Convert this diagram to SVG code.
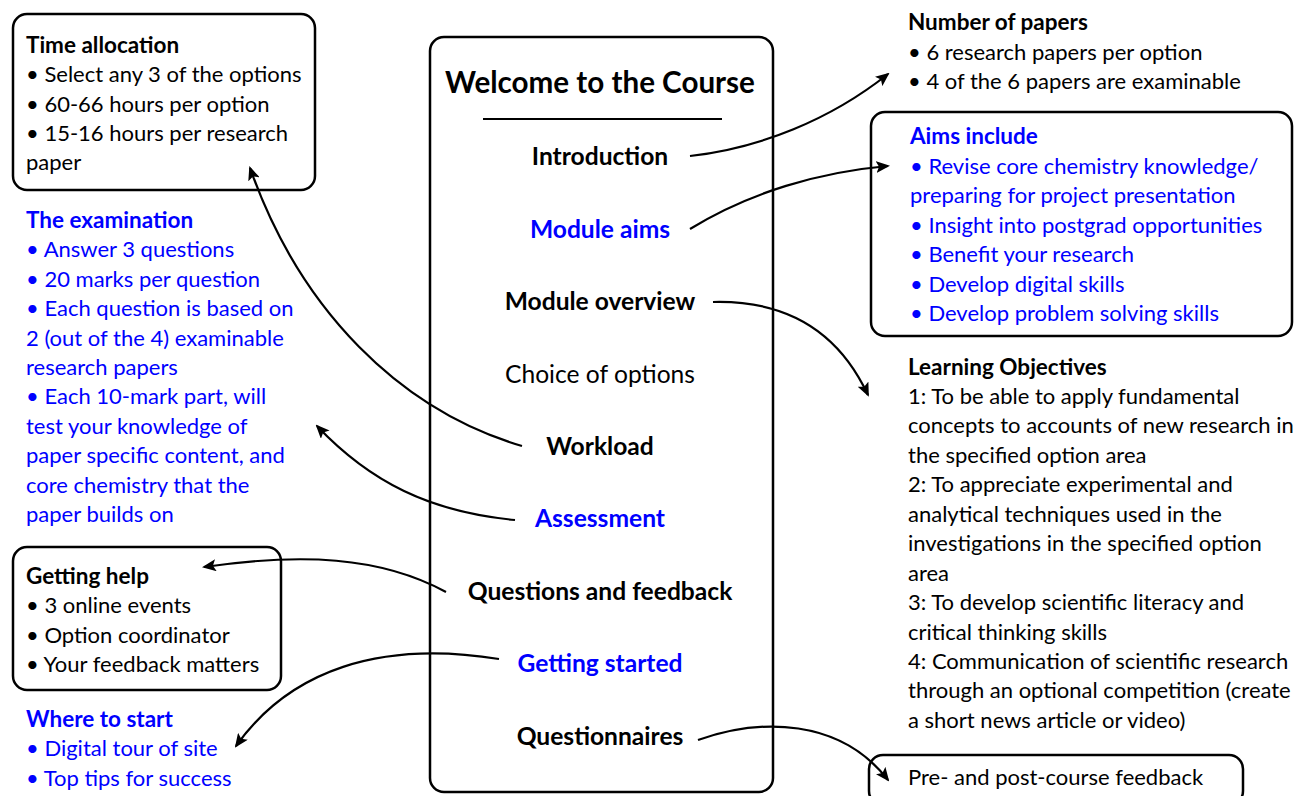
<svg xmlns="http://www.w3.org/2000/svg" width="1296" height="796" viewBox="0 0 1296 796">
<defs>
<style>
text{font-family:Lato,"Liberation Sans",sans-serif;font-size:22px;fill:#000}
.b{font-weight:bold;font-size:22.5px}
.blue{fill:#0000ff}
.menu{font-size:24.6px;text-anchor:middle}
.box{fill:#fff;stroke:#000;stroke-width:2.5}
.con{fill:none;stroke:#000;stroke-width:2.2}
</style>
<marker id="ah" viewBox="0 0 14 12" refX="12" refY="6" markerWidth="14" markerHeight="12" markerUnits="userSpaceOnUse" orient="auto">
<path d="M0,0 L14,6 L0,12 L3,6 Z" fill="#000"/>
</marker>
</defs>
<rect width="1296" height="796" fill="#fff"/>

<g id="center">
<rect class="box" x="430" y="37" width="343" height="755" rx="14"/>
<text class="b" x="600" y="93" style="font-size:29.6px;text-anchor:middle">Welcome to the Course</text>
<line x1="483" y1="119" x2="722" y2="119" stroke="#000" stroke-width="2.2"/>
<text class="menu b" x="600" y="165">Introduction</text>
<text class="menu b blue" x="600" y="238">Module aims</text>
<text class="menu b" x="600" y="310">Module overview</text>
<text class="menu" x="600" y="383">Choice of options</text>
<text class="menu b" x="600" y="455">Workload</text>
<text class="menu b blue" x="600" y="527">Assessment</text>
<text class="menu b" x="600" y="600">Questions and feedback</text>
<text class="menu b blue" x="600" y="672">Getting started</text>
<text class="menu b" x="600" y="745">Questionnaires</text>
</g>

<g id="time-allocation">
<rect class="box" x="13" y="14" width="302" height="176" rx="14"/>
<text class="b" x="26" y="53">Time allocation</text>
<text x="26" y="82">• Select any 3 of the options</text>
<text x="26" y="112">• 60-66 hours per option</text>
<text x="26" y="141">• 15-16 hours per research</text>
<text x="26" y="170">paper</text>
</g>

<g id="examination">
<text class="b blue" x="26" y="228">The examination</text>
<text class="blue" x="26" y="257">• Answer 3 questions</text>
<text class="blue" x="26" y="287">• 20 marks per question</text>
<text class="blue" x="26" y="316">• Each question is based on</text>
<text class="blue" x="26" y="346">2 (out of the 4) examinable</text>
<text class="blue" x="26" y="375">research papers</text>
<text class="blue" x="26" y="404">• Each 10-mark part, will</text>
<text class="blue" x="26" y="434">test your knowledge of</text>
<text class="blue" x="26" y="463">paper specific content, and</text>
<text class="blue" x="26" y="493">core chemistry that the</text>
<text class="blue" x="26" y="522">paper builds on</text>
</g>

<g id="getting-help">
<rect class="box" x="13" y="547" width="268" height="143" rx="14"/>
<text class="b" x="26" y="584">Getting help</text>
<text x="26" y="613">• 3 online events</text>
<text x="26" y="643">• Option coordinator</text>
<text x="26" y="672">• Your feedback matters</text>
</g>

<g id="where-to-start">
<text class="b blue" x="26" y="727">Where to start</text>
<text class="blue" x="26" y="756">• Digital tour of site</text>
<text class="blue" x="26" y="786">• Top tips for success</text>
</g>

<g id="number-of-papers">
<text class="b" x="908" y="30">Number of papers</text>
<text x="908" y="60">• 6 research papers per option</text>
<text x="908" y="89">• 4 of the 6 papers are examinable</text>
</g>

<g id="aims">
<rect class="box" x="871" y="112" width="421" height="224" rx="14"/>
<text class="b blue" x="910" y="144">Aims include</text>
<text class="blue" x="910" y="174">• Revise core chemistry knowledge/</text>
<text class="blue" x="910" y="203">preparing for project presentation</text>
<text class="blue" x="910" y="233">• Insight into postgrad opportunities</text>
<text class="blue" x="910" y="262">• Benefit your research</text>
<text class="blue" x="910" y="292">• Develop digital skills</text>
<text class="blue" x="910" y="321">• Develop problem solving skills</text>
</g>

<g id="learning-objectives">
<text class="b" x="908" y="375">Learning Objectives</text>
<text x="908" y="404">1: To be able to apply fundamental</text>
<text x="908" y="433">concepts to accounts of new research in</text>
<text x="908" y="463">the specified option area</text>
<text x="908" y="492">2: To appreciate experimental and</text>
<text x="908" y="522">analytical techniques used in the</text>
<text x="908" y="551">investigations in the specified option</text>
<text x="908" y="581">area</text>
<text x="908" y="610">3: To develop scientific literacy and</text>
<text x="908" y="640">critical thinking skills</text>
<text x="908" y="669">4: Communication of scientific research</text>
<text x="908" y="698">through an optional competition (create</text>
<text x="908" y="728">a short news article or video)</text>
</g>

<g id="feedback">
<rect class="box" x="869" y="755" width="374" height="50" rx="14"/>
<text x="908" y="785">Pre- and post-course feedback</text>
</g>

<g id="connectors">
<path class="con" d="M690,156 C760,148 830,120 888,74" marker-end="url(#ah)"/>
<path class="con" d="M690,229 C750,192 820,172 888,166" marker-end="url(#ah)"/>
<path class="con" d="M713,302 C790,300 840,335 868,395" marker-end="url(#ah)"/>
<path class="con" d="M522,446 C400,410 300,310 250,168" marker-end="url(#ah)"/>
<path class="con" d="M515,520 C430,512 370,482 317,426" marker-end="url(#ah)"/>
<path class="con" d="M446,592 C380,556 300,553 204,567" marker-end="url(#ah)"/>
<path class="con" d="M499,659 C380,640 290,670 236,746" marker-end="url(#ah)"/>
<path class="con" d="M698,740 C760,718 840,718 888,780" marker-end="url(#ah)"/>
</g>
</svg>
